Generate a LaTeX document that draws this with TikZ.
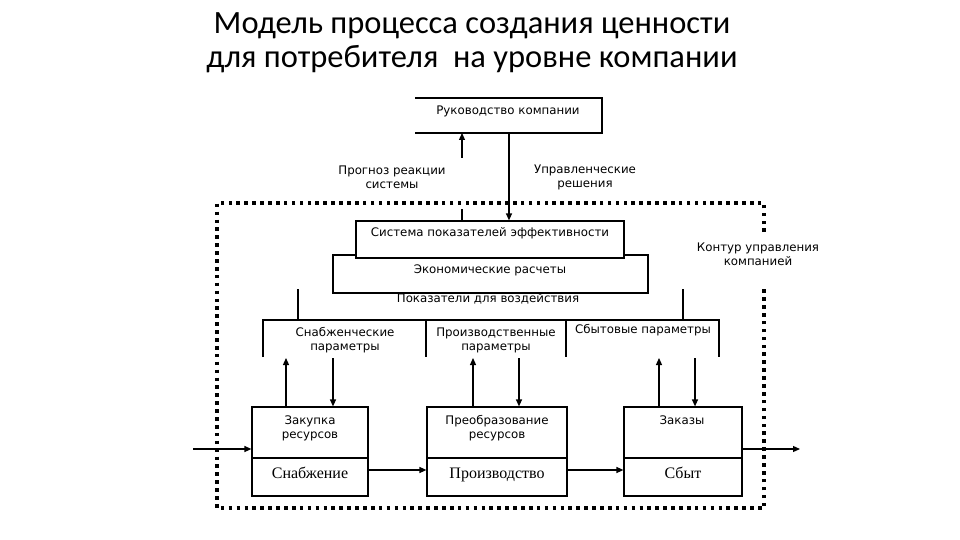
\documentclass[tikz,border=0pt]{standalone}
\usepackage{fontspec}
\setmainfont{DejaVu Sans}
\newfontfamily\titlefont{Carlito}
\newfontfamily\serifx{Liberation Serif}
\usetikzlibrary{arrows.meta}
\begin{document}
\begin{tikzpicture}[x=1pt,y=-1pt,
  ln/.style={line width=1.2pt, draw=black},
  arr/.style={ln, -{Triangle[length=7pt,width=6pt]}},
  boxn/.style={ln, fill=white, inner sep=0pt, rectangle},
  txt/.style={font=\fontsize{11.8}{14}\selectfont, align=center, inner sep=0pt},
  stxt/.style={font=\fontsize{16}{18}\serifx, inner sep=0pt, anchor=base},
  ttl/.style={font=\fontsize{32.5}{34}\titlefont, inner sep=0pt, anchor=base},
  frame/.style={line width=3.6pt, dash pattern=on 3.6pt off 4.3pt}
]
\useasboundingbox (0,0) rectangle (960,540);

% title
\node[ttl] (t1) at (472,34) {Модель процесса создания ценности};
\node[ttl] (t2) at (472,68) {для потребителя\ \ на уровне компании};

% management (open on the left)
\draw[ln] (415,98) -- (602,98) -- (602,133) -- (415,133);
\node[txt] (ruk) at (508,111) {Руководство компании};
\coordinate (rukUp) at (462,133);
\coordinate (rukDn) at (509,133);

\node[txt] (prog) at (392,177) {Прогноз реакции\\системы};
\node[txt] (upr) at (585,177) {Управленческие\\решения};

% control contour frame
\draw[frame] (764,232) -- (764,203) -- (217,203) -- (217,508) -- (764,508) -- (764,287);
\node[txt] (kont) at (758,254) {Контур управления\\компанией};

% indicator boxes
\node[boxn, minimum width=315pt, minimum height=38pt] (econ) at (490.5,274) {};
\node[boxn, minimum width=268pt, minimum height=37pt] (sys) at (490,239.5) {};
\node[txt] (sysT) at (490,233) {Система показателей эффективности};
\node[txt] (econT) at (490,270) {Экономические расчеты};
\node[txt] (pok) at (488,299) {Показатели для воздействия};

\draw[arr] (rukDn) -- (sys.north -| rukDn);
\draw[ln] (sys.north -| rukUp) -- (462,209);
\draw[arr] (462,158) -- (rukUp);

% parameters bracket
\draw[ln] (263,357) -- (263,320) -- (719,320) -- (719,357);
\draw[ln] (426,320) -- (426,357);
\draw[ln] (566,320) -- (566,357);
\draw[ln] (298,289) -- (298,320);
\draw[ln] (683,289) -- (683,320);
\node[txt] (pS) at (345,340) {Снабженческие\\параметры};
\node[txt] (pP) at (496,340) {Производственные\\параметры};
\node[txt] (pB) at (643,330) {Сбытовые параметры};

% process boxes
\node[boxn, minimum width=116pt, minimum height=89pt] (snab) at (310,451.5) {};
\node[boxn, minimum width=140pt, minimum height=89pt] (prod) at (497,451.5) {};
\node[boxn, minimum width=118pt, minimum height=89pt] (sbyt) at (683,451.5) {};
\draw[ln] (snab.west |- 0,458) -- (snab.east |- 0,458);
\draw[ln] (prod.west |- 0,458) -- (prod.east |- 0,458);
\draw[ln] (sbyt.west |- 0,458) -- (sbyt.east |- 0,458);

\node[txt] (snabT) at (310,428) {Закупка\\ресурсов};
\node[txt] (prodT) at (497,428) {Преобразование\\ресурсов};
\node[txt] (sbytT) at (682,420) {Заказы};
\node[stxt] (snabS) at (310,478) {Снабжение};
\node[stxt] (prodS) at (497,478) {Производство};
\node[stxt] (sbytS) at (683,478) {Сбыт};

% vertical arrows
\coordinate (a1) at (286,358); \coordinate (b1) at (333,358);
\coordinate (a2) at (473,358); \coordinate (b2) at (519,358);
\coordinate (a3) at (659,358); \coordinate (b3) at (695,358);
\draw[arr] (snab.north -| a1) -- (a1);
\draw[arr] (b1) -- (snab.north -| b1);
\draw[arr] (prod.north -| a2) -- (a2);
\draw[arr] (b2) -- (prod.north -| b2);
\draw[arr] (sbyt.north -| a3) -- (a3);
\draw[arr] (b3) -- (sbyt.north -| b3);

% horizontal flow
\coordinate (inS) at (193,449);
\coordinate (outE) at (800,449);
\draw[arr] (inS) -- (snab.west |- inS);
\draw[arr] (snab.east |- 0,470) -- (prod.west |- 0,470);
\draw[arr] (prod.east |- 0,470) -- (sbyt.west |- 0,470);
\draw[arr] (sbyt.east |- outE) -- (outE);
\end{tikzpicture}
\end{document}
